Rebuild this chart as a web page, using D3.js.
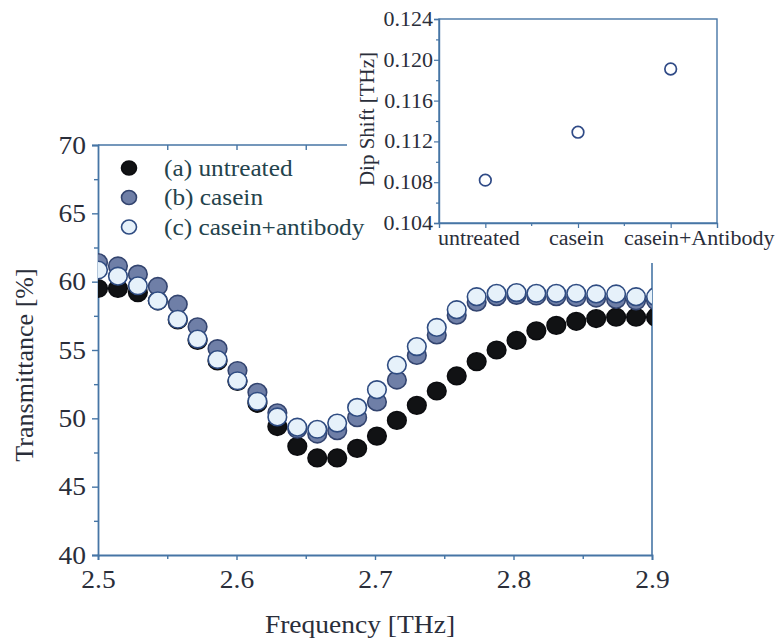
<!DOCTYPE html>
<html>
<head>
<meta charset="utf-8">
<script src="https://cdn.jsdelivr.net/npm/d3@7"></script>
<style>
  html, body { margin: 0; padding: 0; background: #fff; }
  svg { display: block; }
</style>
</head>
<body>
<svg id="chart" width="779" height="638" font-family="Liberation Serif"></svg>
<script>
// ---------- data ----------
const frequency = [2.5, 2.5144, 2.5288, 2.5432, 2.5576, 2.5719, 2.5863, 2.6007, 2.6151, 2.6295,
  2.6439, 2.6583, 2.6727, 2.6871, 2.7014, 2.7158, 2.7302, 2.7446, 2.759, 2.7734,
  2.7878, 2.8022, 2.8165, 2.8309, 2.8453, 2.8597, 2.8741, 2.8885, 2.9029];
const untreated = [59.5, 59.5, 59.2, 58.6, 57.2, 55.7, 54.2, 52.7, 51.1, 49.4,
  47.95, 47.1, 47.1, 47.8, 48.7, 49.85, 50.95, 52.0, 53.1, 54.15,
  55.0, 55.7, 56.4, 56.8, 57.1, 57.3, 57.4, 57.4, 57.4];
const casein = [61.4, 61.15, 60.55, 59.65, 58.35, 56.7, 55.1, 53.5, 51.9, 50.4,
  49.2, 48.85, 49.1, 50.05, 51.2, 52.8, 54.6, 56.1, 57.55, 58.5,
  58.9, 59.0, 58.95, 58.9, 58.85, 58.8, 58.7, 58.6, 58.6];
const caseinAntibody = [60.85, 60.4, 59.7, 58.6, 57.25, 55.8, 54.3, 52.75, 51.25, 50.1,
  49.35, 49.2, 49.65, 50.8, 52.1, 53.9, 55.25, 56.65, 57.95, 58.9,
  59.15, 59.2, 59.15, 59.15, 59.15, 59.1, 59.1, 58.9, 58.9];
const legendLabels = ["(a) untreated", "(b) casein", "(c) casein+antibody"];
const xTicks = [2.5, 2.6, 2.7, 2.8, 2.9];
const yTicks = [40, 45, 50, 55, 60, 65, 70];

const insetCategories = ["untreated", "casein", "casein+Antibody"];
const dipShift = [0.1082, 0.1129, 0.1191];
const insetYTicks = [0.104, 0.108, 0.112, 0.116, 0.120, 0.124];

// ---------- styles ----------
const FONT = "Liberation Serif";
const axisColor = "#4675a5";
const textColor = "#2a2e3a";
const legendColor = "#24434c";
const STRETCH = 1.1;
const seriesStyle = [
  { fill: "#111214", stroke: "#0c0d10" },
  { fill: "#6f7fa7", stroke: "#33446f" },
  { fill: "#e6f1fa", stroke: "#2f4c82" }
];
const insetLabelShift = [-7, -2, 28];

const svg = d3.select("#chart");

function stretch(sel, k) {
  sel.each(function () {
    const L = this.getComputedTextLength();
    d3.select(this).attr("textLength", L * k).attr("lengthAdjust", "spacingAndGlyphs");
  });
}

// ---------- main plot ----------
const x = d3.scaleLinear().domain([2.5, 2.9]).range([98, 652]);
const y = d3.scaleLinear().domain([40, 70]).range([555, 145]);

svg.append("defs").append("clipPath").attr("id", "clipMain")
  .append("rect").attr("x", x(2.5)).attr("y", y(70)).attr("width", x(2.9) - x(2.5)).attr("height", y(40) - y(70));

const main = svg.append("g");

main.append("line").attr("x1", x(2.5)).attr("x2", x(2.9)).attr("y1", y(70)).attr("y2", y(70))
  .attr("stroke", axisColor).attr("stroke-width", 1.6);
main.append("line").attr("x1", x(2.9)).attr("x2", x(2.9)).attr("y1", y(70)).attr("y2", y(40))
  .attr("stroke", axisColor).attr("stroke-width", 1.6);

const topAx = main.append("g").attr("transform", `translate(0,${y(70)})`)
  .call(d3.axisTop(x).tickValues(d3.range(2.55, 2.9, 0.05)).tickSize(-5).tickFormat(""));
topAx.select(".domain").remove();
topAx.selectAll("line").attr("stroke", axisColor).attr("stroke-width", 1.4);

const minorX = [2.55, 2.65, 2.75, 2.85];
const bx = main.append("g").attr("transform", `translate(0,${y(40)})`)
  .call(d3.axisBottom(x).tickValues(xTicks).tickSize(5).tickPadding(10).tickFormat(d3.format(".1f")));
bx.append("g").call(d3.axisBottom(x).tickValues(minorX).tickSize(4).tickFormat("")).select(".domain").remove();
bx.attr("font-family", FONT);
bx.selectAll(".domain").attr("stroke", axisColor).attr("stroke-width", 1.8);
bx.selectAll("line").attr("stroke", axisColor).attr("stroke-width", 1.4);
bx.selectAll("text").attr("fill", textColor).attr("font-size", 25).attr("font-family", FONT);

const minorY = [42.5, 47.5, 52.5, 57.5, 62.5, 67.5];
const ly = main.append("g").attr("transform", `translate(${x(2.5)},0)`)
  .call(d3.axisLeft(y).tickValues(yTicks).tickSize(6).tickPadding(6));
ly.append("g").call(d3.axisLeft(y).tickValues(minorY).tickSize(4).tickFormat("")).select(".domain").remove();
ly.attr("font-family", FONT);
ly.selectAll(".domain").attr("stroke", axisColor).attr("stroke-width", 1.8);
ly.selectAll("line").attr("stroke", axisColor).attr("stroke-width", 1.4);
ly.selectAll("text").attr("fill", textColor).attr("font-size", 25).attr("font-family", FONT);

const seriesList = [untreated, casein, caseinAntibody];
const pts = main.append("g").attr("clip-path", "url(#clipMain)");
seriesList.forEach((vals, si) => {
  pts.append("g").selectAll("ellipse").data(vals).join("ellipse")
    .attr("cx", (d, i) => x(frequency[i]))
    .attr("cy", d => y(d))
    .attr("rx", 9.3).attr("ry", 8.8)
    .attr("fill", seriesStyle[si].fill)
    .attr("stroke", seriesStyle[si].stroke)
    .attr("stroke-width", 1.6);
});

main.append("text").attr("class", "st").attr("x", 360).attr("y", 633)
  .attr("text-anchor", "middle").attr("font-size", 25).attr("fill", textColor).text("Frequency [THz]");
main.append("text").attr("transform", "translate(24,365) rotate(-90)")
  .attr("text-anchor", "middle").attr("dy", "0.35em")
  .attr("font-size", 26).attr("fill", textColor).text("Transmittance [%]");

// ---------- inset ----------
const inset = svg.append("g");
inset.append("rect").attr("x", 347).attr("y", 0).attr("width", 432).attr("height", 263).attr("fill", "#fff");

const ix = d3.scalePoint().domain(insetCategories).range([439, 717]).padding(0.5);
const iy = d3.scaleLinear().domain([0.104, 0.124]).range([223, 19]);

inset.append("rect").attr("x", 439).attr("y", iy(0.124)).attr("width", 717 - 439).attr("height", iy(0.104) - iy(0.124))
  .attr("fill", "none").attr("stroke", axisColor).attr("stroke-width", 1.4);

const iMinorY = [0.106, 0.110, 0.114, 0.118, 0.122];
const iya = inset.append("g").attr("transform", "translate(439,0)")
  .call(d3.axisLeft(iy).tickValues(insetYTicks).tickSize(5).tickPadding(1).tickFormat(d3.format(".3f")));
iya.append("g").call(d3.axisLeft(iy).tickValues(iMinorY).tickSize(3).tickFormat("")).select(".domain").remove();
iya.attr("font-family", FONT);
iya.selectAll(".domain").attr("stroke", axisColor).attr("stroke-width", 1.4);
iya.selectAll("line").attr("stroke", axisColor).attr("stroke-width", 1.2);
iya.selectAll("text").attr("fill", textColor).attr("font-size", 20).attr("font-family", FONT);

const ixa = inset.append("g").attr("transform", `translate(0,${iy(0.104)})`)
  .call(d3.axisBottom(ix).tickSize(5).tickPadding(3));
const step = ix.step();
ixa.append("g").selectAll("line").data(insetCategories.slice(1)).join("line")
  .attr("x1", d => ix(d) - step / 2).attr("x2", d => ix(d) - step / 2)
  .attr("y1", 0).attr("y2", 3);
ixa.attr("font-family", FONT);
ixa.selectAll(".domain").attr("stroke", axisColor).attr("stroke-width", 1.4);
ixa.selectAll("line").attr("stroke", axisColor).attr("stroke-width", 1.2);
ixa.selectAll(".tick text").attr("fill", textColor).attr("font-size", 20).attr("font-family", FONT)
  .attr("dx", (d, i) => insetLabelShift[i]);

inset.append("g").selectAll("circle").data(dipShift).join("circle")
  .attr("cx", (d, i) => ix(insetCategories[i]))
  .attr("cy", d => iy(d))
  .attr("r", 5.8)
  .attr("fill", "#fff").attr("stroke", "#2f4a86").attr("stroke-width", 1.7);

inset.append("text").attr("transform", "translate(367,119) rotate(-90)")
  .attr("text-anchor", "middle").attr("dy", "0.35em")
  .attr("font-size", 21).attr("fill", textColor).text("Dip Shift [THz]");

// ---------- legend (drawn above inset background) ----------
const lg = svg.append("g");
legendLabels.forEach((lab, i) => {
  const ly0 = 168 + i * 29.5;
  lg.append("ellipse").attr("cx", 129).attr("cy", ly0).attr("rx", 7.5).attr("ry", 7)
    .attr("fill", seriesStyle[i].fill).attr("stroke", seriesStyle[i].stroke).attr("stroke-width", 1.6);
  lg.append("text").attr("class", "st").attr("x", 164).attr("y", ly0).attr("dy", "0.33em")
    .attr("font-size", 23).attr("fill", legendColor).text(lab);
});

stretch(bx.selectAll("text"), STRETCH);
stretch(ly.selectAll("text"), STRETCH);
stretch(svg.selectAll("text.st"), STRETCH);
stretch(iya.selectAll("text"), STRETCH);
stretch(ixa.selectAll("text"), STRETCH);
</script>
</body>
</html>
